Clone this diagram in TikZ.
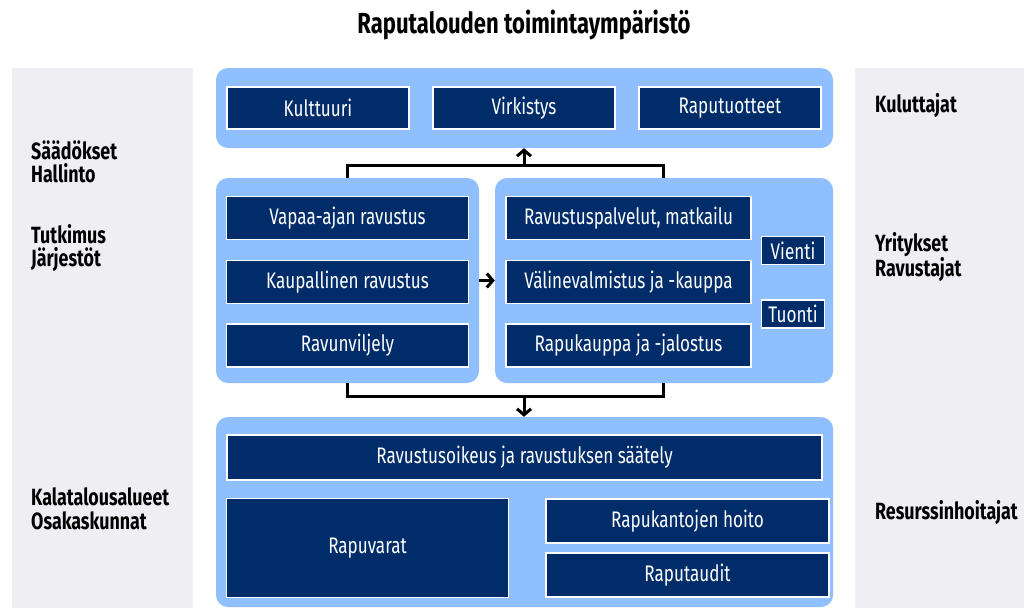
\documentclass[tikz,border=0pt]{standalone}
\usepackage{fontspec}
\setmainfont[FakeStretch=0.76]{Fira Sans}
\usetikzlibrary{arrows.meta}
\definecolor{lblue}{HTML}{8FBFFF}
\definecolor{navy}{HTML}{002D6A}
\definecolor{lgrey}{HTML}{EFEEF3}
\begin{document}
\begin{tikzpicture}[x=1pt,y=-1pt,
  panel/.style={fill=lblue, rounded corners=12pt, inner sep=0pt},
  side/.style={fill=lgrey, inner sep=0pt},
  dbox/.style={fill=navy, draw=white, line width=1.5pt, text=white, inner sep=0pt, font=\fontsize{22.5}{24}\selectfont},
  lab/.style={anchor=west, align=left, font=\fontsize{23.5}{23.5}\selectfont\bfseries, inner sep=0pt},
  conn/.style={line width=3pt, draw=black},
  arr/.style={line width=3pt, -{Straight Barb[length=6pt,width=14pt,line width=3pt]}}]
\useasboundingbox (0,0) rectangle (1024,608);
\fill[white] (0,0) rectangle (1024,608);
% side panels
\node[side, minimum width=181pt, minimum height=540pt] (leftside) at (102.5,338) {};
\node[side, minimum width=169pt, minimum height=540pt] (rightside) at (939.5,338) {};
% title
\node[font=\fontsize{29}{32}\selectfont\bfseries] (title) at (524,25) {Raputalouden toimintaympäristö};
% panels
\node[panel, minimum width=617pt, minimum height=80pt] (ptop) at (524.5,108) {};
\node[panel, minimum width=263pt, minimum height=205pt] (pl) at (347.5,280.5) {};
\node[panel, minimum width=338pt, minimum height=205pt] (pr) at (664,280.5) {};
\node[panel, minimum width=617pt, minimum height=190pt] (pb) at (524.5,512) {};
% top boxes
\node[dbox, minimum width=182pt, minimum height=42pt] (kult) at (318,108) {Kulttuuri};
\node[dbox, minimum width=182pt, minimum height=42pt] (virk) at (524,108) {Virkistys};
\node[dbox, minimum width=182pt, minimum height=42pt] (raput) at (730,108) {Raputuotteet};
% left middle
\node[dbox, minimum width=242pt, minimum height=43pt] (vapaa) at (347.5,218) {Vapaa-ajan ravustus};
\node[dbox, minimum width=242pt, minimum height=43pt] (kaup) at (347.5,282) {Kaupallinen ravustus};
\node[dbox, minimum width=242pt, minimum height=43pt] (viljely) at (347.5,345.5) {Ravunviljely};
% right middle
\node[dbox, minimum width=245pt, minimum height=43pt] (palv) at (628.5,218) {Ravustuspalvelut, matkailu};
\node[dbox, minimum width=245pt, minimum height=43pt] (valine) at (628.5,282) {Välinevalmistus ja -kauppa};
\node[dbox, minimum width=245pt, minimum height=43pt] (kauppa) at (628.5,345.5) {Rapukauppa ja -jalostus};
\node[dbox, minimum width=63pt, minimum height=28pt] (vienti) at (793,250.5) {Vienti};
\node[dbox, minimum width=63pt, minimum height=28pt] (tuonti) at (793,314) {Tuonti};
% bottom
\node[dbox, minimum width=595pt, minimum height=45pt] (oikeus) at (524.5,457.5) {Ravustusoikeus ja ravustuksen säätely};
\node[dbox, minimum width=282pt, minimum height=99pt] (varat) at (367.5,548) {Rapuvarat};
\node[dbox, minimum width=283pt, minimum height=44pt] (hoito) at (687.5,521) {Rapukantojen hoito};
\node[dbox, minimum width=283pt, minimum height=44pt] (taudit) at (687.5,575) {Raputaudit};
% side labels
\node[lab] (saad) at (31,162) {Säädökset\\Hallinto};
\node[lab] (tutk) at (31,248) {Tutkimus\\Järjestöt};
\node[lab] (kala) at (31,509) {Kalatalousalueet\\Osakaskunnat};
\node[lab] (kulu) at (875,106) {Kuluttajat};
\node[lab] (yrit) at (875,257) {Yritykset\\Ravustajat};
\node[lab] (resu) at (875,513) {Resurssinhoitajat};
% connectors
\coordinate (tl) at (347,165);
\coordinate (tr) at (663,165);
\coordinate (tm) at (524,165);
\coordinate (bl) at (347,396);
\coordinate (br) at (663,396);
\coordinate (bm) at (524,396);
\draw[conn] (pl.north -| tl) -- (tl) -- (tr) -- (pr.north -| tr);
\draw[arr] (tm) -- (ptop.south -| tm);
\draw[conn] (pl.south -| bl) -- (bl) -- (br) -- (pr.south -| br);
\draw[arr] (bm) -- (pb.north -| bm);
\draw[arr] (pl.east) -- (pr.west);
\end{tikzpicture}
\end{document}
